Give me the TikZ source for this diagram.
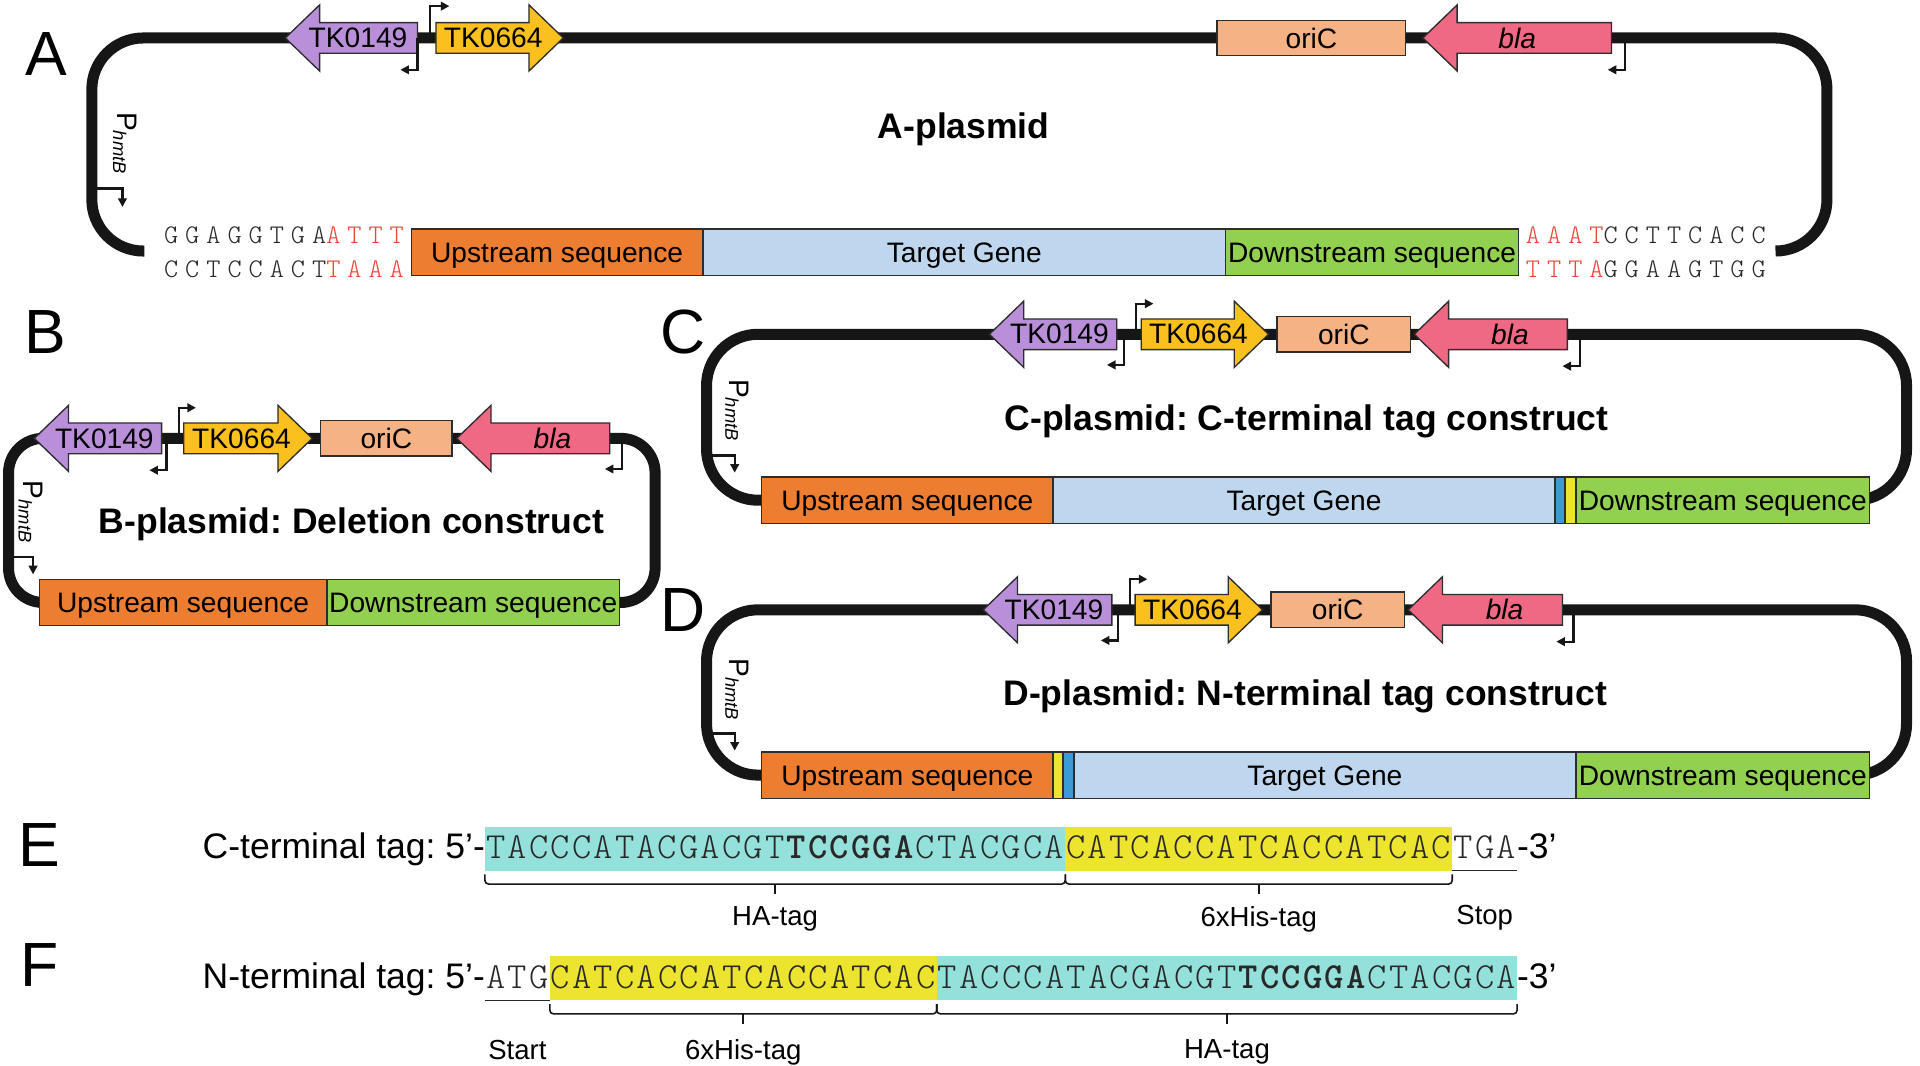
\documentclass[tikz,border=0pt]{standalone}
\usepackage{fontspec}
\setmainfont{Liberation Sans}
\newfontfamily\seqfont{lmmonolt10-regular.otf}[BoldFont=lmmonolt10-bold.otf,LetterSpace=6]
\newfontfamily\flankfont{lmmonolt10-regular.otf}[LetterSpace=26]
\usetikzlibrary{arrows.meta,positioning,backgrounds}
\frenchspacing

\definecolor{bbcol}{RGB}{22,22,22}
\definecolor{edgecol}{RGB}{45,45,45}
\definecolor{tkpurple}{RGB}{185,143,217}
\definecolor{tkyellow}{RGB}{250,192,30}
\definecolor{oricol}{RGB}{245,178,132}
\definecolor{blacol}{RGB}{239,104,132}
\definecolor{upcol}{RGB}{237,125,49}
\definecolor{targetcol}{RGB}{190,215,238}
\definecolor{downcol}{RGB}{146,208,80}
\definecolor{hacyan}{RGB}{148,224,218}
\definecolor{hisyel}{RGB}{237,228,48}
\definecolor{stripblue}{RGB}{60,155,212}
\definecolor{seqred}{RGB}{236,70,60}
\definecolor{seqgrey}{RGB}{40,40,40}

\newcommand{\panelfont}{\fontsize{51}{55}\selectfont}
\newcommand{\genefont}{\fontsize{23}{26}\selectfont}
\newcommand{\titlefont}{\bfseries\fontsize{29}{32}\selectfont}
\newcommand{\tagfont}{\fontsize{29}{32}\selectfont}
\newcommand{\labfont}{\fontsize{22.5}{26}\selectfont}

% gene arrow: [label position], name, tail x, tip x, y, fill, label
\newcommand{\gene}[7][0.45]{%
  \draw[genebox,fill=#6] (#3,{#5-12.5}) -- ({#4-28*sign(#4-#3)},{#5-12.5})
    -- ({#4-28*sign(#4-#3)},{#5-27}) -- (#4,#5) -- ({#4-28*sign(#4-#3)},{#5+27})
    -- ({#4-28*sign(#4-#3)},{#5+12.5}) -- (#3,{#5+12.5}) -- cycle;
  \node[genetext] (#2) at ({#3+#1*(#4-#3)},#5) {#7};}

\tikzset{
  backbone/.style={line width=9pt,draw=bbcol,rounded corners=42pt},
  genebox/.style={draw=edgecol,line width=1.1pt},
  genetext/.style={font=\genefont,inner sep=0pt},
  partbox/.style={draw=edgecol,line width=1.1pt,minimum height=38pt,inner sep=0pt,outer sep=0pt,font=\genefont,
    text height=16.5pt,text depth=0pt},
  oribox/.style={partbox,fill=oricol,minimum height=29pt},
  prom/.style={line width=1.8pt,draw=bbcol,-{Triangle[length=7pt,width=7pt]}},
  ptext/.style={font=\genefont,inner sep=0pt,rotate=-90},
  title/.style={font=\titlefont,inner sep=0pt},
  panel/.style={font=\panelfont,inner sep=0pt},
  flank/.style={font=\flankfont\fontsize{22}{24}\selectfont,text=seqgrey,inner sep=0pt},
  seqbox/.style={font=\seqfont\fontsize{30}{32}\selectfont,text=seqgrey,inner sep=0pt,outer sep=0pt,
    minimum height=36pt,text height=21pt,text depth=5pt},
  tagtext/.style={font=\tagfont,inner sep=0pt,outer sep=0pt,text height=21pt,text depth=5pt},
  lab/.style={font=\labfont,inner sep=0pt},
  tagbrace/.style={line width=1.3pt,draw=bbcol,rounded corners=3pt}
}

\begin{document}
\begin{tikzpicture}[x=1pt,y=-1pt,node distance=0pt]
\useasboundingbox (0,0) rectangle (1568,870);

%%% A
\node[panel] (labA) at (38,44) {A};
\coordinate (endAl) at (118,205);
\coordinate (endAr) at (1450,205);
\draw[backbone] (endAl) -- (75,205) -- (75,31) -- (1492,31) -- (1492,205) -- (endAr);
\gene{tkaA}{341}{233}{31}{tkpurple}{TK0149}
\gene{tkbA}{356}{460}{31}{tkyellow}{TK0664}
\node[oribox,minimum width=154pt] (oriA) at (1071,31) {oriC};
\gene[0.5]{blaA}{1316}{1162}{31}{blacol}{\textit{bla}}
\draw[prom] (351,31) -- (351,5) -- (367,5);
\draw[prom] (341,31) -- (341,57) -- (327,57);
\draw[prom] (1327,31) -- (1327,57) -- (1313,57);
\draw[prom] (75,154) -- (100,154) -- (100,169);
\node[ptext] (pA) at (102,117) {P\textsubscript{\fontsize{15}{16}\selectfont\itshape hmtB}};
\node[title] (titleA) at (787,106) {A-plasmid};
\node[partbox,fill=upcol,minimum width=238pt] (upA) at (455,206) {Upstream sequence};
\node[partbox,fill=targetcol,minimum width=427pt,right=of upA] (tgA) {Target Gene};
\node[partbox,fill=downcol,minimum width=239pt,right=of tgA] (dnA) {Downstream sequence};
\node[flank,anchor=east] (lseqA1) at (330,192) {GGAGGTGA\textcolor{seqred}{ATTT}};
\node[flank,anchor=east] (lseqA2) at (330,220) {CCTCCACT\textcolor{seqred}{TAAA}};
\node[flank,anchor=west] (rseqA1) at (1246,192) {\textcolor{seqred}{AAAT}CCTTCACC};
\node[flank,anchor=west] (rseqA2) at (1246,220) {\textcolor{seqred}{TTTA}GGAAGTGG};

%%% B
\node[panel] (labB) at (37,271) {B};
\node[partbox,fill=upcol,minimum width=235pt] (upB) at (149.5,492) {Upstream sequence};
\node[partbox,fill=downcol,minimum width=239pt,right=of upB] (dnB) {Downstream sequence};
\begin{scope}[on background layer]
\draw[backbone,rounded corners=28pt] (upB.west) -- (7,492) -- (7,358) -- (535,358) -- (535,492) -- (dnB.east);
\end{scope}
\gene{tkaB}{132}{28}{358}{tkpurple}{TK0149}
\gene{tkbB}{150}{255}{358}{tkyellow}{TK0664}
\node[oribox,minimum width=107pt] (oriB) at (315.5,358) {oriC};
\gene[0.375]{blaB}{498}{373}{358}{blacol}{\textit{bla}}
\draw[prom] (146,358) -- (146,333) -- (160,333);
\draw[prom] (136,358) -- (136,384) -- (122,384);
\draw[prom] (508,358) -- (508,383) -- (494,383);
\draw[prom] (7,455) -- (27,455) -- (27,469);
\node[ptext] (pB) at (25,418) {P\textsubscript{\fontsize{15}{16}\selectfont\itshape hmtB}};
\node[title] (titleB) at (287,428) {B-plasmid: Deletion construct};

%%% C
\node[panel] (labC) at (558,271) {C};
\node[partbox,fill=upcol,minimum width=238pt] (upC) at (741,408.5) {Upstream sequence};
\node[partbox,fill=targetcol,minimum width=410pt,right=of upC] (tgC) {Target Gene};
\node[partbox,fill=stripblue,minimum width=8pt,right=of tgC] (haC) {};
\node[partbox,fill=hisyel,minimum width=9pt,right=of haC] (hisC) {};
\node[partbox,fill=downcol,minimum width=240pt,right=of hisC] (dnC) {Downstream sequence};
\begin{scope}[on background layer]
\draw[backbone] (upC.west) -- (577,408.5) -- (577,273) -- (1557,273) -- (1557,408.5) -- (dnC.east);
\end{scope}
\gene{tkaC}{912}{808}{273}{tkpurple}{TK0149}
\gene{tkbC}{932}{1036}{273}{tkyellow}{TK0664}
\node[oribox,minimum width=109pt] (oriC) at (1097.5,273) {oriC};
\gene[0.375]{blaC}{1280}{1155}{273}{blacol}{\textit{bla}}
\draw[prom] (928,273) -- (928,248) -- (942,248);
\draw[prom] (918,273) -- (918,298) -- (904,298);
\draw[prom] (1290,273) -- (1290,299) -- (1276,299);
\draw[prom] (577,372) -- (600,372) -- (600,386);
\node[ptext] (pC) at (602,335) {P\textsubscript{\fontsize{15}{16}\selectfont\itshape hmtB}};
\node[title] (titleC) at (1067,344) {C-plasmid: C-terminal tag construct};

%%% D
\node[panel] (labD) at (558,498) {D};
\node[partbox,fill=upcol,minimum width=238pt] (upD) at (741,633) {Upstream sequence};
\node[partbox,fill=hisyel,minimum width=8pt,right=of upD] (hisD) {};
\node[partbox,fill=stripblue,minimum width=9pt,right=of hisD] (haD) {};
\node[partbox,fill=targetcol,minimum width=410pt,right=of haD] (tgD) {Target Gene};
\node[partbox,fill=downcol,minimum width=240pt,right=of tgD] (dnD) {Downstream sequence};
\begin{scope}[on background layer]
\draw[backbone] (upD.west) -- (577,633) -- (577,498) -- (1557,498) -- (1557,633) -- (dnD.east);
\end{scope}
\gene{tkaD}{908}{803}{498}{tkpurple}{TK0149}
\gene{tkbD}{927}{1031}{498}{tkyellow}{TK0664}
\node[oribox,minimum width=109pt] (oriD) at (1092.5,498) {oriC};
\gene[0.375]{blaD}{1276}{1150}{498}{blacol}{\textit{bla}}
\draw[prom] (923,498) -- (923,473) -- (937,473);
\draw[prom] (913,498) -- (913,523) -- (899,523);
\draw[prom] (1285,498) -- (1285,524) -- (1271,524);
\draw[prom] (577,599) -- (600,599) -- (600,613);
\node[ptext] (pD) at (602,563) {P\textsubscript{\fontsize{15}{16}\selectfont\itshape hmtB}};
\node[title] (titleD) at (1066,569) {D-plasmid: N-terminal tag construct};

%%% E
\node[panel] (labE) at (32,690) {E};
\node[seqbox,fill=hacyan,minimum width=474pt] (haE) at (633,693) {TACCCATACGACGT\textbf{TCCGGA}CTACGCA};
\node[seqbox,fill=hisyel,minimum width=316pt,right=of haE] (hisE) {CATCACCATCACCATCAC};
\node[seqbox,minimum width=53pt,right=of hisE] (stopE) {TGA};
\draw[line width=1.2pt,draw=seqgrey] (stopE.south west) -- (stopE.south east);
\node[tagtext,right=of stopE] (endE) {-3’};
\node[tagtext,left=of haE] (nameE) {C-terminal tag: 5’-};
\draw[tagbrace] ([yshift=-3pt]haE.south west) -- ++(0,8) -- ([yshift=-11pt]haE.south east) -- ++(0,-8);
\draw[tagbrace] ([yshift=-11pt]haE.south) -- ++(0,8) node[lab,below=10pt] (haElab) {HA-tag};
\draw[tagbrace] ([yshift=-3pt]hisE.south west) -- ++(0,8) -- ([yshift=-11pt]hisE.south east) -- ++(0,-8);
\draw[tagbrace] ([yshift=-11pt]hisE.south) -- ++(0,8) node[lab,below=10pt] (hisElab) {6xHis-tag};
\node[lab,below=28pt of stopE] (stoplab) {Stop};

%%% F
\node[panel] (labF) at (32,788) {F};
\node[seqbox,minimum width=53pt] (atgF) at (422.5,799) {ATG};
\draw[line width=1.2pt,draw=seqgrey] (atgF.south west) -- (atgF.south east);
\node[seqbox,fill=hisyel,minimum width=316pt,right=of atgF] (hisF) {CATCACCATCACCATCAC};
\node[seqbox,fill=hacyan,minimum width=474pt,right=of hisF] (haF) {TACCCATACGACGT\textbf{TCCGGA}CTACGCA};
\node[tagtext,right=of haF] (endF) {-3’};
\node[tagtext,left=of atgF] (nameF) {N-terminal tag: 5’-};
\draw[tagbrace] ([yshift=-3pt]hisF.south west) -- ++(0,8) -- ([yshift=-11pt]hisF.south east) -- ++(0,-8);
\draw[tagbrace] ([yshift=-11pt]hisF.south) -- ++(0,8) node[lab,below=12pt] (hisFlab) {6xHis-tag};
\draw[tagbrace] ([yshift=-3pt]haF.south west) -- ++(0,8) -- ([yshift=-11pt]haF.south east) -- ++(0,-8);
\draw[tagbrace] ([yshift=-11pt]haF.south) -- ++(0,8) node[lab,below=12pt] (haFlab) {HA-tag};
\node[lab,below=32pt of atgF] (startlab) {Start};

\end{tikzpicture}
\end{document}
